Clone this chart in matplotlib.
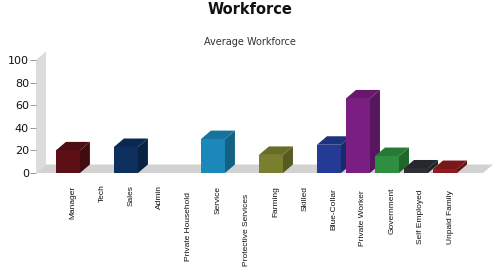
import numpy as np
import matplotlib
matplotlib.use("Agg")
import matplotlib.pyplot as plt
from matplotlib.patches import Polygon
from matplotlib import font_manager

categories = ["Manager", "Tech", "Sales", "Admin", "Private Household", "Service",
              "Protective Services", "Farming", "Skilled", "Blue-Collar",
              "Private Worker", "Government", "Self Employed", "Unpaid Family"]
values = [20, 0, 23, 0, 0, 30, 0, 16, 0, 25, 66, 15, 4, 3.5]
bar_colors = ["#5c0f15", "#5c0f15", "#0d2f5e", "#0d2f5e", "#1a88b8", "#1a88b8",
              "#1a88b8", "#7a7f2e", "#7a7f2e", "#233b94", "#7a1e82", "#2d8f3f",
              "#2c3036", "#8e1b1f"]
y_ticks = [0, 20, 40, 60, 80, 100]

# narrow font for category labels if present
names = {f.name for f in font_manager.fontManager.ttflist}
label_font = "Liberation Sans Narrow" if "Liberation Sans Narrow" in names else "Liberation Sans"
label_size = 7 if label_font == "Liberation Sans Narrow" else 6

W, H = 500, 280
fig = plt.figure(figsize=(W / 100, H / 100), dpi=100)
fig.patch.set_facecolor("white")

left, right, bottom, top = 36, 483, 173, 60
ax = fig.add_axes([left / W, 1 - bottom / H, (right - left) / W, (bottom - top) / H])
xmin, xmax = -1.1, 14.31
ax.set_xlim(xmin, xmax)
ax.set_ylim(0, 100)
ax.set_facecolor("none")

# depth offset (pixels -> data units)
dx = 10 * (xmax - xmin) / (right - left)
dy = 8.5 * 100 / (bottom - top)


def shade(c, f):
    r, g, b = matplotlib.colors.to_rgb(c)
    return (r * f, g * f, b * f)


# back wall and floor
wall = Polygon([(xmin, 0), (xmin, 100), (xmin + dx, 100 + dy), (xmin + dx, dy)],
               closed=True, facecolor="#dcdcdc", edgecolor="none", clip_on=False, zorder=1)
floor = Polygon([(xmin, 0), (xmax, 0), (xmax + dx, dy), (xmin + dx, dy)],
                closed=True, facecolor="#d2d2d2", edgecolor="none", clip_on=False, zorder=1)
ax.add_patch(wall)
ax.add_patch(floor)

w = 24 / 29
for i, (v, c) in enumerate(zip(values, bar_colors)):
    if v <= 0:
        continue
    x0, x1 = i - w / 2, i + w / 2
    front = Polygon([(x0, 0), (x1, 0), (x1, v), (x0, v)], closed=True,
                    facecolor=c, edgecolor="none", clip_on=False, zorder=3)
    side = Polygon([(x1, 0), (x1 + dx, dy), (x1 + dx, v + dy), (x1, v)], closed=True,
                   facecolor=shade(c, 0.72), edgecolor="none", clip_on=False, zorder=2)
    topf = Polygon([(x0, v), (x1, v), (x1 + dx, v + dy), (x0 + dx, v + dy)], closed=True,
                   facecolor=shade(c, 0.85), edgecolor="none", clip_on=False, zorder=2)
    ax.add_patch(side)
    ax.add_patch(topf)
    ax.add_patch(front)

for s in ax.spines.values():
    s.set_visible(False)
ax.set_yticks(y_ticks)
ax.set_yticklabels([str(t) for t in y_ticks], fontsize=8, color="#111111")
ax.tick_params(axis="y", length=4, width=0.6, color="#888888", pad=1)
ax.set_xticks([])

# category labels (rotated)
for i, name in enumerate(categories):
    top_px = 182 + 0.6 * len(name)
    ax.annotate(name, xy=(i, 0), xytext=(5, -(top_px - bottom)),
                textcoords="offset pixels", rotation=90, ha="center", va="top",
                fontsize=label_size, family=label_font, color="#111111",
                annotation_clip=False)

fig.text(0.5, 1 - 9 / H, "Workforce", ha="center", va="center",
         fontsize=10.5, fontweight="bold", color="#111111")
fig.text(0.5, 1 - 42 / H, "Average Workforce", ha="center", va="center",
         fontsize=7, color="#333333")

fig.savefig("out.png", dpi=100, facecolor="white")
